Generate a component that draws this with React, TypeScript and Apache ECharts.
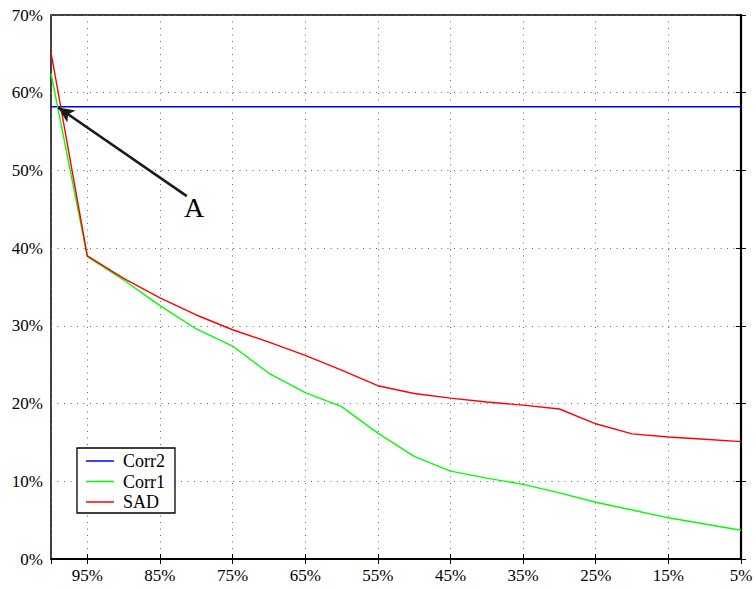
import React, { useEffect, useRef } from "react";
import * as echarts from "echarts";

// Percent of data kept (x axis), left to right
const percents = [100, 95, 90, 85, 80, 75, 70, 65, 60, 55, 50, 45, 40, 35, 30, 25, 20, 15, 10, 5];
const corr2 = [58.2, 58.2, 58.2, 58.2, 58.2, 58.2, 58.2, 58.2, 58.2, 58.2, 58.2, 58.2, 58.2, 58.2, 58.2, 58.2, 58.2, 58.2, 58.2, 58.2];
const corr1 = [62.5, 38.9, 35.9, 32.6, 29.6, 27.4, 23.9, 21.4, 19.6, 16.2, 13.2, 11.3, 10.4, 9.6, 8.5, 7.3, 6.3, 5.3, 4.5, 3.7];
const sad = [65.2, 39.0, 36.1, 33.6, 31.4, 29.5, 27.9, 26.2, 24.3, 22.3, 21.3, 20.7, 20.2, 19.8, 19.3, 17.4, 16.1, 15.7, 15.4, 15.1];
const seriesNames = ["Corr2", "Corr1", "SAD"];
const seriesColors = ["#0000ff", "#00ff00", "#ff0000"];
// Arrow annotation: from (percent, value) to (percent, value)
const arrowFrom = [81.3, 46.7];
const arrowTo = [99.0, 58.1];
const annotationText = "A";

const FONT = "'Liberation Serif', 'Times New Roman', serif";
// x is stored as (percent - 5) so ticks fall on 5%, 15%, ... 95%
const toX = (p: number) => p - 5;

export default function App() {
  const ref = useRef<HTMLDivElement>(null);
  useEffect(() => {
    if (!ref.current) return;
    const chart = echarts.init(ref.current, null, { renderer: "svg" });
    const mk = (vals: number[]) => percents.map((p, i) => [toX(p), vals[i]]);
    const tickCommon = { show: true, inside: true, length: 5, lineStyle: { color: "#000", width: 1 } };
    const gridLine = { show: true, lineStyle: { color: "#666", type: [1, 5.5] as any, width: 1 } };
    const xBase = {
      type: "value" as const,
      min: 0,
      max: 95,
      interval: 10,
      inverse: true,
    };
    const yBase = { type: "value" as const, min: 0, max: 70, interval: 10 };
    const data = [corr2, corr1, sad];
    chart.setOption({
      animation: false,
      grid: { left: 51, right: 15, top: 15, bottom: 30, show: true, borderColor: "#000", borderWidth: 1.5, backgroundColor: "#fff" },
      xAxis: [
        {
          ...xBase,
          position: "bottom",
          axisLine: { show: true, lineStyle: { color: "#000", width: 1.5 } },
          axisTick: tickCommon,
          splitLine: gridLine,
          axisLabel: {
            showMaxLabel: false,
            margin: 8,
            color: "#000",
            fontFamily: FONT,
            fontSize: 17,
            formatter: (v: number) => `${v + 5}%`,
          },
        },
        {
          ...xBase,
          position: "top",
          axisLine: { show: true, lineStyle: { color: "#000", width: 1.5 } },
          axisTick: tickCommon,
          splitLine: { show: false },
          axisLabel: { show: false },
        },
      ],
      yAxis: [
        {
          ...yBase,
          position: "left",
          axisLine: { show: true, lineStyle: { color: "#000", width: 2.2 } },
          axisTick: tickCommon,
          splitLine: gridLine,
          axisLabel: {
            margin: 8,
            color: "#000",
            fontFamily: FONT,
            fontSize: 17,
            formatter: "{value}%",
          },
        },
        {
          ...yBase,
          position: "right",
          axisLine: { show: true, lineStyle: { color: "#000", width: 1.5 } },
          axisTick: tickCommon,
          splitLine: { show: false },
          axisLabel: { show: false },
        },
      ],
      legend: {
        show: true,
        orient: "vertical",
        left: 77,
        top: 448,
        data: seriesNames,
        icon: "rect",
        itemWidth: 28,
        itemHeight: 1.5,
        itemGap: 2.5,
        padding: [4, 10, 2, 9],
        backgroundColor: "#fff",
        borderColor: "#000",
        borderWidth: 1.3,
        borderRadius: 0,
        textStyle: { fontFamily: FONT, fontSize: 18, color: "#000", lineHeight: 18, padding: [0, 0, 0, 4] },
      },
      series: data.map((vals, i) => ({
        name: seriesNames[i],
        type: "line",
        data: mk(vals),
        symbol: "none",
        color: seriesColors[i],
        lineStyle: { color: seriesColors[i], width: 1.4 },
        z: 3 + i,
        ...(i === 2
          ? {
              markLine: {
                silent: true,
                symbol: ["none", "arrow"],
                symbolSize: [11, 16],
                label: { show: false },
                lineStyle: { color: "#1a1a1a", width: 2.6, type: "solid" },
                data: [
                  [
                    { coord: [toX(arrowFrom[0]), arrowFrom[1]] },
                    { coord: [toX(arrowTo[0]), arrowTo[1]] },
                  ],
                ],
                z: 10,
              },
            }
          : {}),
      })),
      graphic: [
        {
          type: "text",
          left: 184,
          top: 193,
          style: { text: annotationText, font: `28px ${FONT}`, fill: "#000" },
          z: 20,
        },
      ],
    });
    return () => chart.dispose();
  }, []);
  return (
    <div
      ref={ref}
      style={{ position: "absolute", left: 0, top: 0, width: 756, height: 589, background: "#fff" }}
    />
  );
}
